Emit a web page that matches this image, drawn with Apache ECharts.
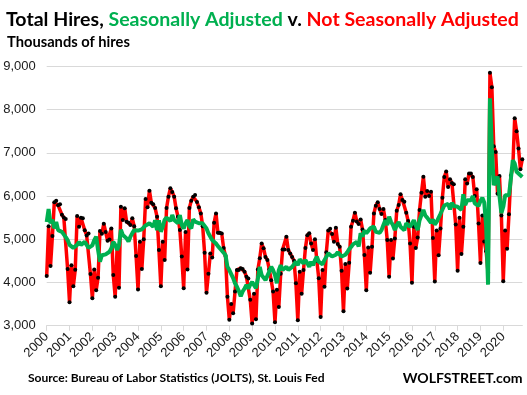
<!DOCTYPE html>
<html><head><meta charset="utf-8">
<script src="https://cdn.jsdelivr.net/npm/echarts@6/dist/echarts.min.js"></script>
<style>html,body{margin:0;padding:0;background:#fff}#c{width:527px;height:395px}</style>
</head><body><div id="c"></div>
<script>
// Tick labels on the category axis (one every 12 months, starting at the first point)
const yearLabels = ['2000','2001','2002','2003','2004','2005','2006','2007','2008','2009','2010',
  '2011','2012','2013','2014','2015','2016','2017','2018','2019','2020'];
const yMin = 3000, yMax = 9000, yStep = 1000;

// Not seasonally adjusted hires, thousands (monthly)
const nsaHires = [
 4147,5300,4378,5073,5853,5892,5784,5807,5568,5500,5467,4309,
 3544,4400,3915,4293,5537,5290,5498,5483,5205,5089,5135,4193,
 3637,4300,3822,4108,5189,5127,5359,5166,4965,4996,5251,4170,
 3668,4795,3876,5753,5444,5714,5405,5382,5328,5483,5300,4610,
 3838,4940,4309,5000,5930,5737,6124,5845,5807,5722,5521,4749,
 3915,4940,4517,5722,5985,6178,6093,5985,5714,5521,5212,4600,
 3869,5166,4301,5722,5892,5985,6023,5861,5737,5598,5300,4687,
 3761,4200,4670,4580,5380,5598,5150,5150,5130,4800,4610,3668,
 3140,3500,3290,3790,4290,4290,4330,4310,4250,4130,4090,3600,
 3050,3740,3150,4300,4560,4900,4790,4590,4520,4300,4050,3790,
 3080,3830,3430,4200,4760,4760,5060,4750,4670,4590,4500,3980,
 3125,4250,3740,4290,4800,5090,5140,4900,4750,5000,4500,4100,
 3200,4286,3900,4700,5200,5240,5120,4942,5266,4888,4826,4270,
 3336,4425,3861,4456,5290,5429,5614,5413,5351,5459,5228,4636,
 3822,4811,4224,4826,5598,5776,5853,5699,5583,5699,5444,4980,
 4131,4980,4556,5019,5660,5792,6039,5907,5869,5614,5421,4903,
 3992,5290,4800,5042,5676,6077,6448,5985,6116,6000,6100,5031,
 4023,5202,4628,5248,5961,6442,6566,6209,6388,6300,6271,5341,
 4271,5496,4659,5287,6388,6287,6519,6519,6442,6000,6155,5364,
 4450,5550,4950,4720,4230,8848,8516,7150,7016,6050,6460,5550,
 4030,5200,4780,5580,6470,6650,7800,7500,7100,6620,6850
];

// Seasonally adjusted hires, thousands (monthly)
const saHires = [
 5400,5700,5370,5450,5250,5400,5210,5250,5170,5210,5050,4980,
 4870,4870,4800,4790,4870,4940,4870,4900,4940,4870,4800,4790,
 4860,4980,5060,4750,4480,4630,4670,4650,4670,4710,4790,4940,
 4870,4750,4860,5220,5100,5060,5020,4950,5060,5140,5210,5170,
 5200,5212,5230,5260,5320,5340,5367,5330,5290,5440,5212,5440,
 5174,5290,5450,5500,5480,5420,5560,5444,5483,5367,5560,5328,
 5250,5367,5444,5300,5250,5460,5405,5444,5370,5367,5367,5382,
 5250,5140,5100,4980,5019,4900,4840,4800,4740,4700,4633,4363,
 4286,4250,4100,3980,3900,3800,3680,3790,3860,3940,3860,3950,
 4010,3940,3870,4090,4360,4170,4130,4054,4015,4250,4363,4286,
 4170,3980,4286,4400,4286,4324,4363,4290,4320,4360,4400,4479,
 4400,4533,4556,4440,4517,4450,4363,4479,4400,4517,4595,4480,
 4517,4420,4517,4556,4672,4640,4600,4560,4640,4700,4650,4600,
 4620,4640,4700,4770,4820,4880,4850,4940,4830,5140,5060,5200,
 5140,5190,5250,5250,5290,5170,5180,5150,5210,5330,5440,5330,
 5520,5400,5330,5210,5330,5400,5290,5250,5210,5370,5370,5290,
 5270,5440,5400,5210,5440,5560,5676,5550,5500,5535,5380,5457,
 5340,5400,5496,5590,5600,5780,5740,5820,5690,5845,5767,5740,
 5750,5720,5680,6040,5790,5900,5940,5900,6000,5830,5820,5770,
 5884,5960,5850,5300,3950,8260,7100,6250,6350,6450,6000,5600,
 5750,6020,6020,6020,6400,6830,6750,6560,6520,6480,6440
];

// Category axis: one entry per month, labelled with the year every 12 months
const categories = nsaHires.map((_, i) => 'm' + i);

const FAM = "Lato, 'Liberation Sans', sans-serif";
const AXFONT = "'Liberation Sans', sans-serif";
// size a text so that it spans a given pixel width
const ctx = document.createElement('canvas').getContext('2d');
function fitSize(text, target) {
  ctx.font = 'bold 100px ' + FAM;
  return 100 * target / ctx.measureText(text).width;
}
const TITLE_TXT = 'Total Hires, Seasonally Adjusted v. Not Seasonally Adjusted';
const tS = fitSize(TITLE_TXT, 513);
const sS = fitSize('Thousands of hires', 123);
const srcTxt = 'Source: Bureau of Labor Statistics (JOLTS), St. Louis Fed';
const srcS = fitSize(srcTxt, 297);
const wS = fitSize('WOLFSTREET.com', 120);

const chart = echarts.init(document.getElementById('c'), null, {renderer: 'canvas'});
function rs(c) { return {color: c, fontFamily: FAM, fontWeight: 'bold', fontSize: tS, lineHeight: tS}; }
chart.setOption({
  animation: false,
  backgroundColor: '#ffffff',
  title: [{
    left: 6, top: 20 - tS / 2, padding: 0,
    text: '{k|Total Hires, }{g|Seasonally Adjusted}{k| v. }{r|Not Seasonally Adjusted}',
    textStyle: {rich: {k: rs('#000000'), g: rs('#00b050'), r: rs('#ff0000')}}
  }, {
    left: 7, top: 42.5 - sS / 2, padding: 0,
    text: 'Thousands of hires',
    textStyle: {color: '#000000', fontFamily: FAM, fontWeight: 'bold', fontSize: sS, lineHeight: sS}
  }, {
    left: 28, top: 378 - srcS / 2, padding: 0,
    text: srcTxt,
    textStyle: {color: '#000000', fontFamily: FAM, fontWeight: 'bold', fontSize: srcS, lineHeight: srcS}
  }, {
    left: 402.7, top: 378.5 - wS / 2, padding: 0,
    text: 'WOLFSTREET.com',
    textStyle: {color: '#000000', fontFamily: FAM, fontWeight: 'bold', fontSize: wS, lineHeight: wS}
  }],
  grid: {left: 46.7, right: 4.7, top: 66.3, bottom: 69.3, containLabel: false},
  xAxis: {
    type: 'category',
    data: categories,
    boundaryGap: false,
    axisLine: {show: true, lineStyle: {color: '#d9d9d9', width: 1}},
    axisTick: {show: true, length: 5, lineStyle: {color: '#d9d9d9'},
      interval: function (i) { return i % 12 === 0; }},
    axisLabel: {
      interval: function (i) { return i % 12 === 0; },
      formatter: function (v, i) { return yearLabels[i / 12] || ''; },
      rotate: 45, margin: 9,
      color: '#1a1a1a', fontFamily: AXFONT, fontSize: 13
    },
    splitLine: {show: false}
  },
  yAxis: {
    type: 'value',
    min: yMin, max: yMax, interval: yStep,
    axisLine: {show: false},
    axisTick: {show: false},
    axisLabel: {
      margin: 11,
      formatter: function (v) { return v.toLocaleString('en-US'); },
      color: '#1a1a1a', fontFamily: AXFONT, fontSize: 13
    },
    splitLine: {show: true, lineStyle: {color: '#d9d9d9', width: 1}}
  },
  series: [{
    name: 'Not Seasonally Adjusted',
    type: 'line',
    data: nsaHires,
    z: 2,
    symbol: 'circle',
    symbolSize: 4,
    showSymbol: true,
    showAllSymbol: true,
    lineStyle: {color: '#ff0000', width: 3.5},
    itemStyle: {color: '#000000', borderWidth: 0},
    emphasis: {disabled: true}
  }, {
    name: 'Seasonally Adjusted',
    type: 'line',
    data: saHires,
    z: 3,
    symbol: 'none',
    lineStyle: {color: '#00b050', width: 4},
    emphasis: {disabled: true}
  }]
});
</script>
</body></html>
